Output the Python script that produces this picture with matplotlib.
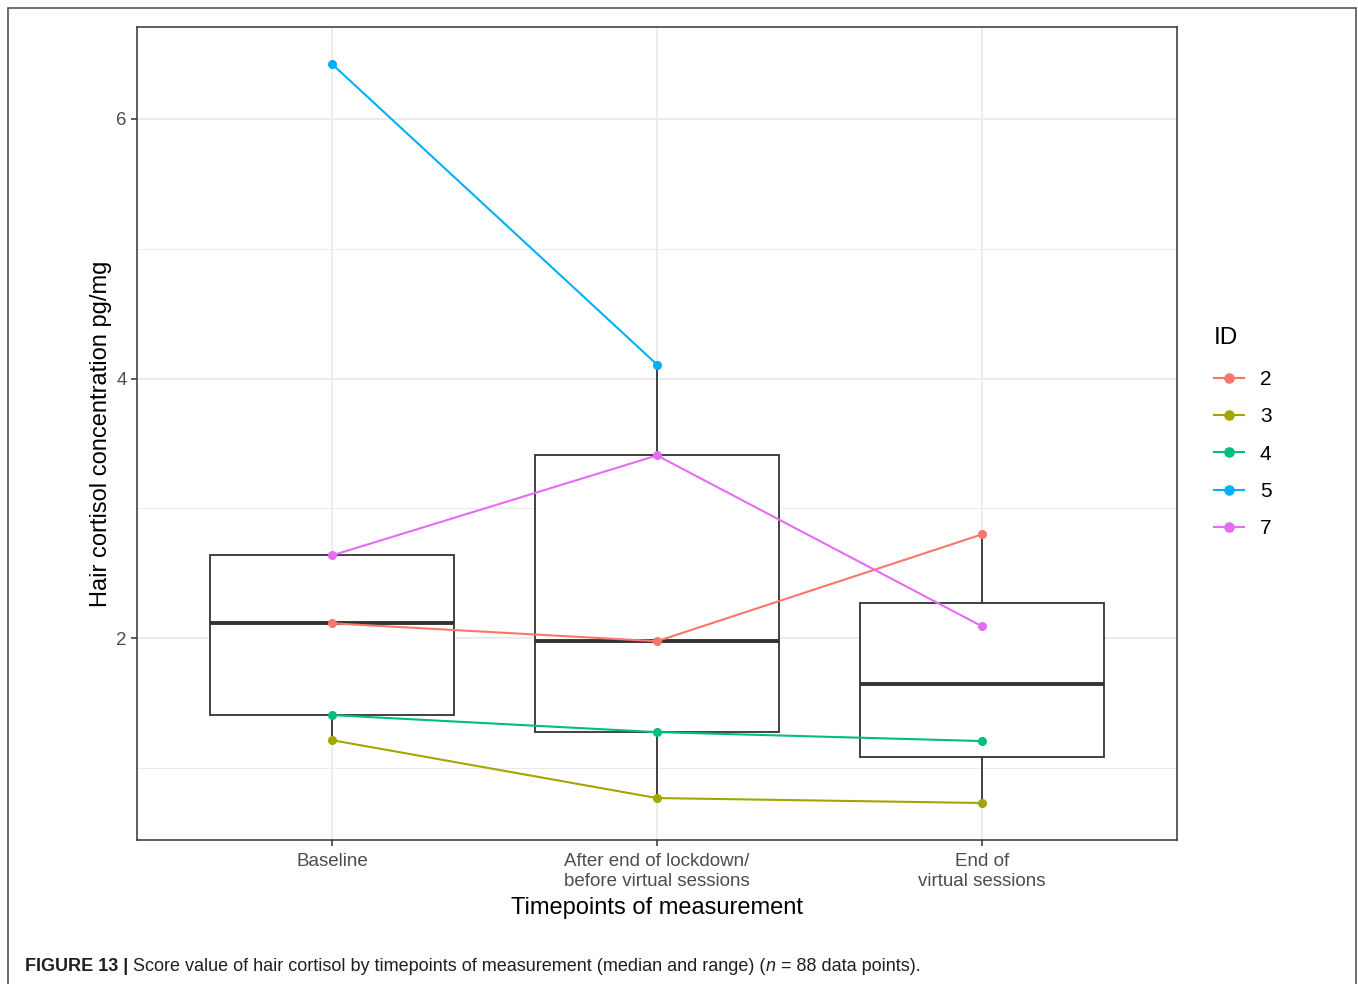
import matplotlib
matplotlib.use("Agg")
import matplotlib.pyplot as plt
import numpy as np
from matplotlib.ticker import MultipleLocator

plt.rcParams['font.family'] = ['Liberation Sans', 'DejaVu Sans']

categories = ["Baseline", "After end of lockdown/\nbefore virtual sessions", "End of\nvirtual sessions"]
ids = ["2", "3", "4", "5", "7"]
colors = ["#F8766D", "#A3A500", "#00BF7D", "#00B0F6", "#E76BF3"]
# values per ID at each timepoint (None = missing)
id2 = [2.115, 1.977, 2.800]
id3 = [1.215, 0.769, 0.731]
id4 = [1.408, 1.277, 1.208]
id5 = [6.423, 4.108, None]
id7 = [2.638, 3.408, 2.092]
series = [id2, id3, id4, id5, id7]

fig = plt.figure(figsize=(13.58, 9.84), dpi=100)
ax = fig.add_axes([137/1358, 1-840/984, (1177-137)/1358, (840-27)/984])

# outer frame
frame = plt.Rectangle((8/1358, -0.01), (1356-8)/1358, 1-8/984+0.01, transform=fig.transFigure,
                      fill=False, edgecolor="#555555", linewidth=1.2)
fig.patches.append(frame)

xpos = np.arange(1, len(categories) + 1)

box_data = []
for i in range(len(categories)):
    box_data.append([s[i] for s in series if s[i] is not None])

ax.boxplot(box_data, positions=xpos, widths=0.75, whis=1.5, showfliers=False, showcaps=False,
           patch_artist=True,
           boxprops=dict(facecolor="white", edgecolor="#333333", linewidth=1.3),
           whiskerprops=dict(color="#333333", linewidth=1.3),
           medianprops=dict(color="#333333", linewidth=2.8),
           zorder=2)

for s, c, lab in zip(series, colors, ids):
    xs = [x for x, v in zip(xpos, s) if v is not None]
    ys = [v for v in s if v is not None]
    ax.plot(xs, ys, color=c, linewidth=1.5, marker='o', markersize=5.5, label=lab, zorder=3)

ax.set_xlim(0.4, 3.6)
ax.set_ylim(0.446, 6.708)
ax.set_xticks(xpos)
ax.set_xticklabels(categories)
ax.yaxis.set_major_locator(MultipleLocator(2))
ax.yaxis.set_minor_locator(MultipleLocator(1))
ax.grid(which='major', color="#EBEBEB", linewidth=1.3, zorder=0)
ax.grid(which='minor', axis='y', color="#EBEBEB", linewidth=0.7, zorder=0)
ax.set_axisbelow(True)
ax.tick_params(which='major', length=4.5, width=1.1, color="#333333", labelcolor="#4D4D4D",
               labelsize=13.5)
ax.tick_params(axis='x', which='major', pad=5)
ax.tick_params(axis='y', which='major', pad=3)
ax.tick_params(which='minor', length=0)
for sp in ax.spines.values():
    sp.set_color("#333333")
    sp.set_linewidth(1.1)

ax.set_xlabel("Timepoints of measurement", fontsize=17, labelpad=5, color="black")
ax.set_ylabel("Hair cortisol concentration pg/mg", fontsize=17, labelpad=3, color="black")

handles, labels = ax.get_legend_handles_labels()
leg = fig.legend(handles, labels, title="ID", loc='upper left',
                 bbox_to_anchor=(1214/1358, 1-327/984), frameon=False,
                 fontsize=15, title_fontsize=17.5, handlelength=1.45, labelspacing=0.88,
                 handletextpad=0.75, borderaxespad=0, borderpad=0, markerscale=1.2)
leg._legend_box.align = "left"
leg._legend_box.sep = 15

# caption
fam = ['Liberation Sans Narrow', 'Liberation Sans']
t1 = fig.text(25/1358, 1-971/984, "FIGURE 13 | ", fontsize=13, fontweight='bold', color="#231F20",
              family=fam)
a1 = ax.annotate("Score value of hair cortisol by timepoints of measurement (median and range) (",
                 xy=(1, 0), xycoords=t1, va='bottom', ha='left', fontsize=13, color="#231F20",
                 family=fam, annotation_clip=False)
a2 = ax.annotate("n", xy=(1, 0), xycoords=a1, va='bottom', ha='left', fontsize=13, style='italic',
                 color="#231F20", family=fam, annotation_clip=False)
a3 = ax.annotate(" = 88 data points).", xy=(1, 0), xycoords=a2, va='bottom', ha='left', fontsize=13,
                 color="#231F20", family=fam, annotation_clip=False)

fig.savefig("out.png", dpi=100)
